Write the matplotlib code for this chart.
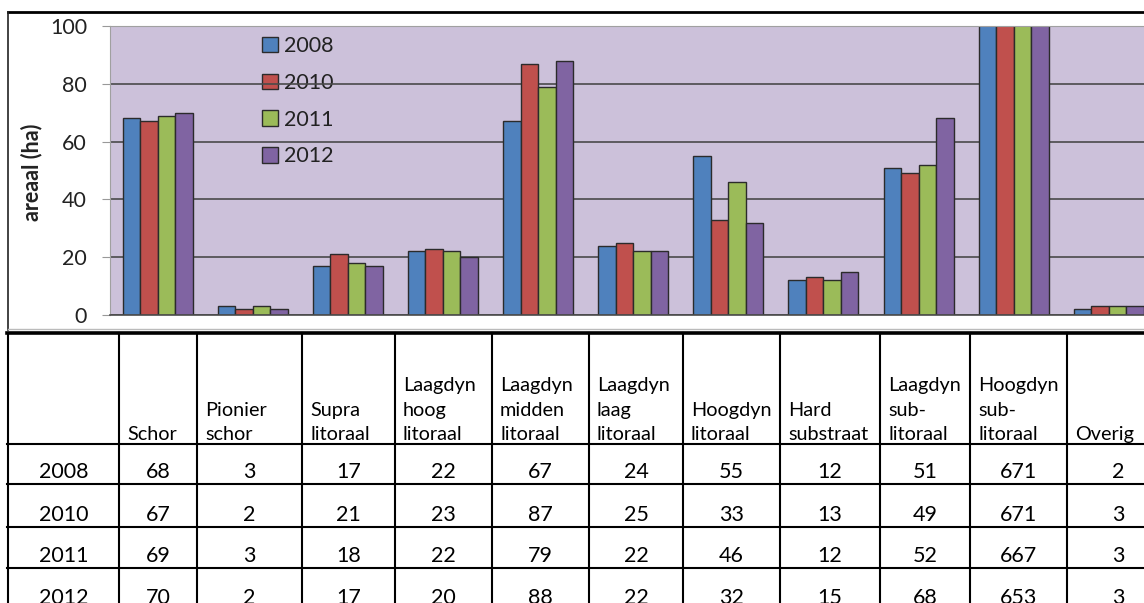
import matplotlib
matplotlib.use("Agg")
import matplotlib.pyplot as plt
import numpy as np

plt.rcParams["font.family"] = ["Lato", "DejaVu Sans"]

# data
categories = ["Schor", "Pionier\nschor", "Supra\nlitoraal", "Laagdyn\nhoog\nlitoraal",
              "Laagdyn\nmidden\nlitoraal", "Laagdyn\nlaag\nlitoraal", "Hoogdyn\nlitoraal",
              "Hard\nsubstraat", "Laagdyn\nsub-\nlitoraal", "Hoogdyn\nsub-\nlitoraal", "Overig"]
years = ["2008", "2010", "2011", "2012"]
v2008 = [68, 3, 17, 22, 67, 24, 55, 12, 51, 671, 2]
v2010 = [67, 2, 21, 23, 87, 25, 33, 13, 49, 671, 3]
v2011 = [69, 3, 18, 22, 79, 22, 46, 12, 52, 667, 3]
v2012 = [70, 2, 17, 20, 88, 22, 32, 15, 68, 653, 3]
series = [v2008, v2010, v2011, v2012]
colors = ["#4F81BD", "#C0504D", "#9BBB59", "#8064A2"]

W, H = 1144, 603
fig = plt.figure(figsize=(W / 100, H / 100), dpi=100)

# background layer in pixel coordinates (chart frame + table)
bg = fig.add_axes([0, 0, 1, 1])
bg.set_xlim(0, W)
bg.set_ylim(H, 0)
bg.axis("off")

# chart frame
bg.plot([8, W], [12, 12], color="black", lw=2)
bg.plot([8, 8], [12, 330], color="#222222", lw=1.2)
bg.plot([8, W], [329, 329], color="#bbbbbb", lw=1)

# table
col_edges = [8, 119, 197, 302, 395, 492, 589, 683, 780, 880, 970, 1067, 1170]
row_edges = [333, 444, 484, 527, 568, 610]
bg.plot([7, W], [333, 333], color="black", lw=2.6)
for y in row_edges[1:-1]:
    bg.plot([7, W], [y, y], color="black", lw=1.5)
for x in col_edges[:-1]:
    bg.plot([x, x], [333, H], color="black", lw=1.5)

fs = 15.5
for i, cat in enumerate(categories):
    bg.text(col_edges[i + 1] + 8, 443, cat, ha="left", va="bottom",
            fontsize=14.3, linespacing=1.53, color="black")
for r, yr in enumerate(years):
    base = row_edges[r + 2] - 6
    bg.text((col_edges[0] + col_edges[1]) / 2, base, yr, ha="center",
            va="baseline", fontsize=fs, color="black")
    for i, v in enumerate(series[r]):
        cx = (col_edges[i + 1] + col_edges[i + 2]) / 2
        bg.text(cx, base, str(v), ha="center", va="baseline", fontsize=fs, color="black")

# chart
left, right, top, bottom = 110, W, 26, 315
ax = fig.add_axes([left / W, 1 - bottom / H, (right - left) / W, (bottom - top) / H])
ax.set_facecolor("#CCC1DA")

x = np.arange(len(categories))
bw = 0.184
for k, (yr, vals) in enumerate(zip(years, series)):
    ax.bar(x + (k - 1.5) * bw, vals, width=bw, color=colors[k], edgecolor="#2b2b2b",
           linewidth=1, label=yr, zorder=2)

ax.set_xlim(-0.5, 10.37)
ax.set_ylim(0, 100)
ax.set_yticks([0, 20, 40, 60, 80, 100])
ax.set_xticks([])
ax.set_axisbelow(True)
ax.yaxis.grid(True, color="#4a4a4a", lw=1.2)
ax.get_ygridlines()[-1].set_color("#a0a0a0")
ax.tick_params(axis="y", length=6, color="#999999", pad=10.5, labelsize=fs,
               labelcolor="#222222")
for s in ["top", "left"]:
    ax.spines[s].set_color("#a0a0a0")
ax.spines["right"].set_visible(False)
ax.spines["bottom"].set_color("#4a4a4a")
ax.spines["bottom"].set_linewidth(1.2)

fig.text(32 / W, 1 - 172 / H, "areaal (ha)", rotation=90, ha="center", va="center",
         fontsize=15.5, fontweight="bold", color="#222222")

leg = ax.legend(loc="upper left", bbox_to_anchor=((262 - left) / (right - left), 1 - (36 - top) / (bottom - top)),
                frameon=False, fontsize=fs, handlelength=0.72, handleheight=0.72,
                handletextpad=0.3, labelspacing=0.78, borderpad=0, borderaxespad=0)
for t in leg.get_texts():
    t.set_color("#222222")
leg.set_zorder(0.3)

fig.savefig("out.png", dpi=100)
